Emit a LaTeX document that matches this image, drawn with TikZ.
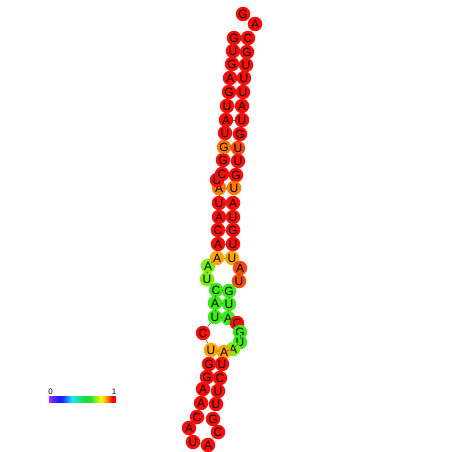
\documentclass[tikz,border=0pt]{standalone}
\usepackage{fontspec}
\setmainfont{Liberation Sans}
\definecolor{nr}{RGB}{250,12,8}
\definecolor{nro}{RGB}{245,75,10}
\definecolor{no}{RGB}{255,120,0}
\definecolor{na}{RGB}{255,165,0}
\definecolor{ng}{RGB}{60,235,20}
\definecolor{nyg}{RGB}{120,240,10}
\definecolor{cbp}{RGB}{170,40,255}
\definecolor{cbb}{RGB}{30,30,255}
\definecolor{cbc}{RGB}{30,230,255}
\definecolor{cbg}{RGB}{30,220,60}
\definecolor{cby}{RGB}{250,250,0}
\definecolor{cbo}{RGB}{255,150,0}
\definecolor{cbr}{RGB}{255,0,0}
\tikzset{
  nt/.style={circle, minimum size=14.5pt, inner sep=0pt, fill=nr, font=\fontsize{12}{12}\selectfont},
  bb/.style={draw=black!65, line width=0.6pt},
  lbl/.style={font=\fontsize{8}{8}\selectfont, inner sep=0pt},
}
\begin{document}
\begin{tikzpicture}[x=1pt,y=-1pt]
\useasboundingbox (0,0) rectangle (452,452);
% nucleotides
\node[nt] (n1) at (243,14) {G};
\node[nt] (n2) at (255,24) {A};
\node[nt] (n3) at (248,38) {C};
\node[nt] (n4) at (247,52) {G};
\node[nt] (n5) at (246,65) {U};
\node[nt] (n6) at (244,78) {U};
\node[nt] (n7) at (243,92) {U};
\node[nt] (n8) at (242,106) {A};
\node[nt] (n9) at (242,120) {U};
\node[nt] (n10) at (240,134) {G};
\node[nt,fill=nro] (n11) at (238,148) {U};
\node[nt] (n12) at (238,161) {U};
\node[nt] (n13) at (236,175) {G};
\node[nt,fill=no] (n14) at (234,188) {U};
\node[nt] (n15) at (233,203) {A};
\node[nt] (n16) at (233,217) {U};
\node[nt] (n17) at (233,230) {G};
\node[nt] (n18) at (233,244) {U};
\node[nt,fill=na] (n19) at (232,258) {U};
\node[nt,fill=nro] (n20) at (240,268) {A};
\node[nt,fill=nro] (n21) at (239,281) {U};
\node[nt,fill=ng] (n22) at (229,291) {G};
\node[nt,fill=ng] (n23) at (229,304) {U};
\node[nt,fill=ng] (n24) at (228,318) {A};
\node[nt] (n25) at (237,323) {C};
\node[nt,fill=ng] (n26) at (240,332) {G};
\node[nt,fill=ng] (n27) at (240,342) {U};
\node[nt,fill=nyg] (n28) at (233,349) {A};
\node[nt,fill=na] (n29) at (224,352) {A};
\node[nt] (n30) at (222,364) {U};
\node[nt] (n31) at (220,378) {C};
\node[nt] (n32) at (218,391) {U};
\node[nt] (n33) at (216,404) {U};
\node[nt] (n34) at (213,419) {G};
\node[nt] (n35) at (218,432) {C};
\node[nt] (n36) at (208,445) {A};
\node[nt] (n37) at (193,442) {U};
\node[nt] (n38) at (189,428) {A};
\node[nt] (n39) at (197,417) {C};
\node[nt] (n40) at (201,403) {A};
\node[nt] (n41) at (203,389) {A};
\node[nt] (n42) at (207,377) {G};
\node[nt] (n43) at (209,364) {G};
\node[nt,fill=na] (n44) at (211,350) {U};
\node[nt] (n45) at (203,333) {C};
\node[nt,fill=ng] (n46) at (215,317) {U};
\node[nt,fill=ng] (n47) at (215,303) {A};
\node[nt,fill=ng] (n48) at (216,290) {C};
\node[nt,fill=nyg] (n49) at (207,279) {U};
\node[nt,fill=nyg] (n50) at (208,266) {A};
\node[nt,fill=na] (n51) at (217,258) {A};
\node[nt] (n52) at (218,244) {A};
\node[nt] (n53) at (218,230) {C};
\node[nt] (n54) at (219,217) {A};
\node[nt] (n55) at (219,203) {U};
\node[nt,fill=no] (n56) at (219,188) {A};
\node[nt] (n57) at (217,180) {U};
\node[nt] (n58) at (222,174) {C};
\node[nt] (n59) at (223,160) {G};
\node[nt,fill=no] (n60) at (224,147) {G};
\node[nt] (n61) at (225,133) {U};
\node[nt] (n62) at (226,120) {A};
\node[nt] (n63) at (227,106) {U};
\node[nt] (n64) at (229,92) {G};
\node[nt] (n65) at (230,78) {A};
\node[nt] (n66) at (232,64) {G};
\node[nt] (n67) at (233,51) {U};
\node[nt] (n68) at (234,38) {G};
% backbone
\foreach \i [evaluate=\i as \j using int(\i+1)] in {1,...,67}
  \draw[bb] (n\i) -- (n\j);
% base pairs
\foreach \a/\b in {3/68,4/67,5/66,6/65,7/64,8/63,9/62,10/61,11/60,12/59,13/58,14/56,15/55,16/54,17/53,18/52,19/51,22/48,23/47,24/46,29/44,30/43,31/42,32/41,33/40,34/39}
  \draw[bb] (n\a) -- (n\b);
% colour bar
\shade[left color=cbp, right color=cbb] (49,396) rectangle (58,402.5);
\fill[cbb] (58,396) rectangle (62,402.5);
\shade[left color=cbb, right color=cbc] (62,396) rectangle (72,402.5);
\shade[left color=cbc, right color=cbg] (72,396) rectangle (84,402.5);
\fill[cbg] (84,396) rectangle (90,402.5);
\shade[left color=cbg, right color=cby] (90,396) rectangle (101,402.5);
\shade[left color=cby, right color=cbo] (101,396) rectangle (107,402.5);
\shade[left color=cbo, right color=cbr] (107,396) rectangle (112,402.5);
\fill[cbr] (112,396) rectangle (115.5,402.5);
\node[lbl] (lab0) at (50.5,392) {0};
\node[lbl] (lab1) at (114,392) {1};
\end{tikzpicture}
\end{document}
